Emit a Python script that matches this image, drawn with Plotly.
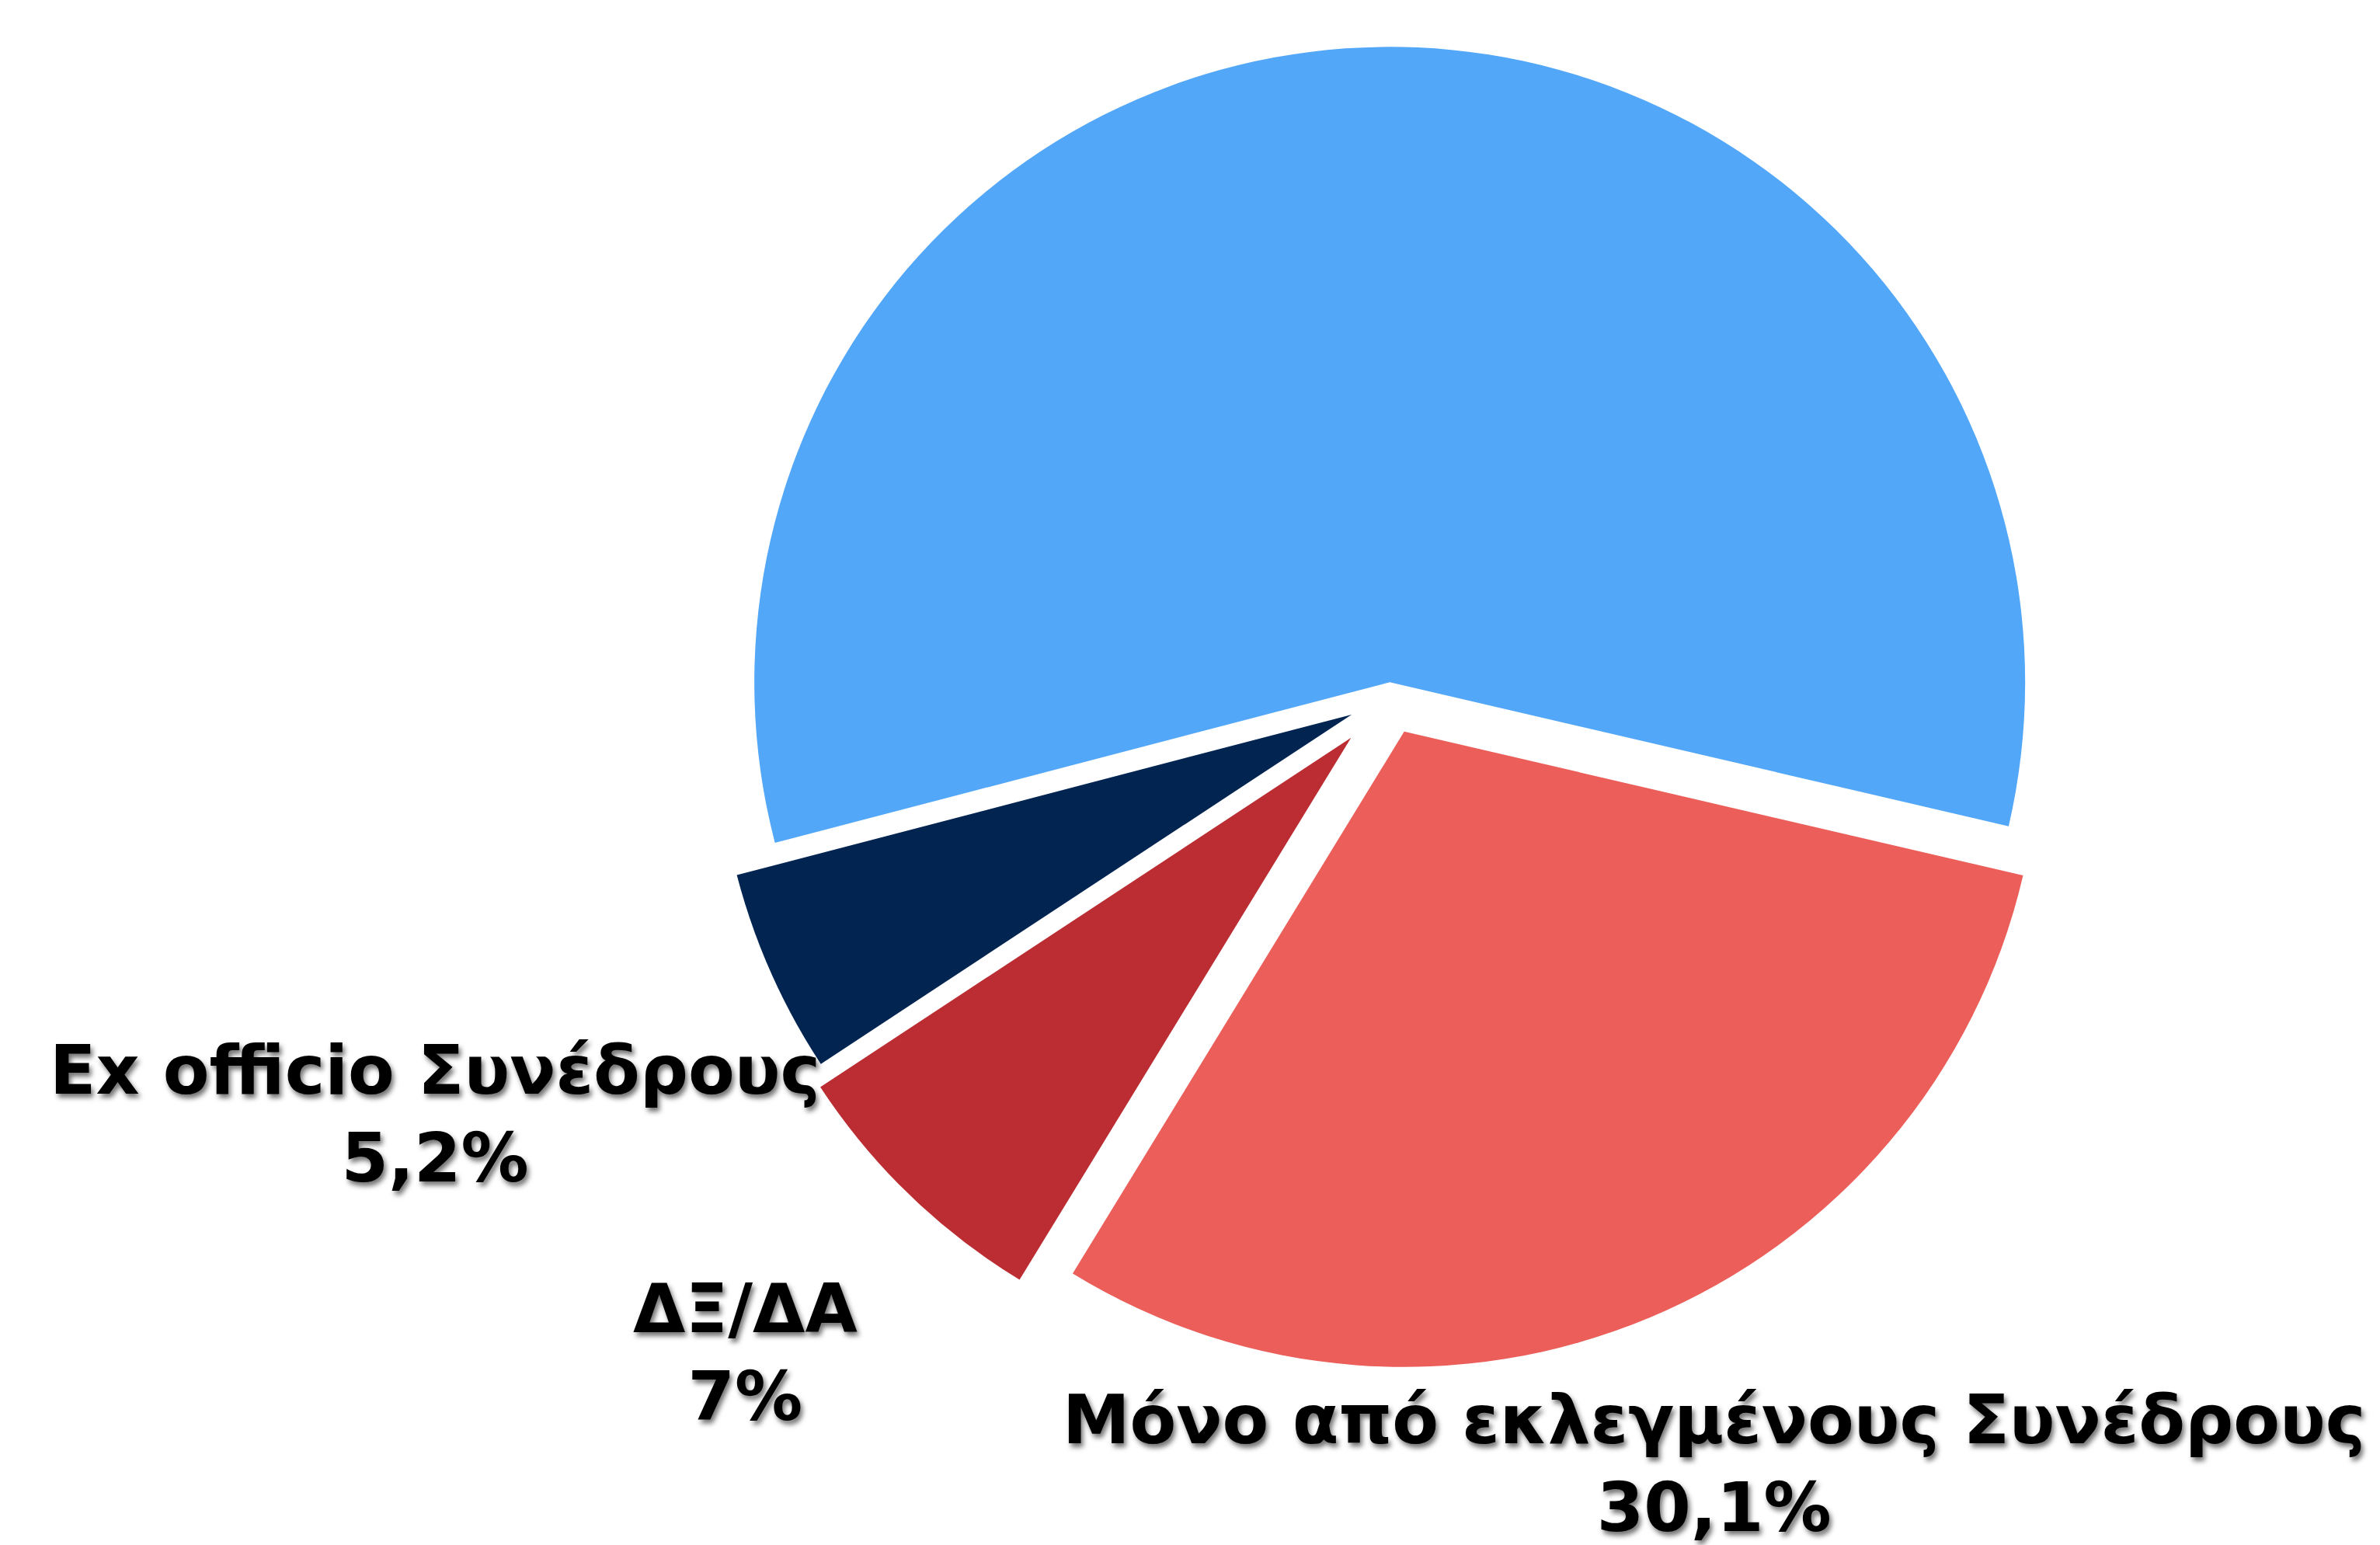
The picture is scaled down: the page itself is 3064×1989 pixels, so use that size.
import plotly.graph_objects as go

# ---- data ----
labels = ["Λοιποί", "Ex officio Συνέδρους", "ΔΞ/ΔΑ", "Μόνο από εκλεγμένους Συνέδρους"]
values = [57.7, 5.2, 7.0, 30.1]
show_label = [False, True, True, True]

# ---- styles ----
colors = ["#52A7F9", "#012451", "#BB2D32", "#EB5E59"]
pulls = [0.024, 0.066, 0.088, 0.058]

W, H = 3064, 1989
# label anchor positions (pixels in the figure) for the visible labels
label_pos = {1: (552, 1426), 2: (951, 1733), 3: (2198, 1876)}

fig = go.Figure()
fig.add_trace(go.Pie(
    labels=labels,
    values=values,
    sort=False,
    direction="counterclockwise",
    rotation=-104.63,
    pull=pulls,
    marker=dict(colors=colors, line=dict(width=0)),
    textinfo="none",
    hoverinfo="label+percent",
    domain=dict(x=[0.28767, 0.87513], y=[0.10508, 1.0]),
    showlegend=False,
))


def fmt(v):
    return f"{v:g}".replace(".", ",") + "%"


annotations = []
for i, (lab, v) in enumerate(zip(labels, values)):
    if not show_label[i]:
        continue
    px, py = label_pos[i]
    annotations.append(dict(
        x=px / W, y=1 - py / H, xref="paper", yref="paper",
        xanchor="center", yanchor="middle", align="center",
        text=f"{lab}<br>{fmt(v)}", showarrow=False,
        font=dict(family="DejaVu Sans", size=87, color="#000000", weight=700,
                  shadow="3px 5px 6px rgba(0,0,0,0.55)"),
    ))

fig.update_layout(
    width=W, height=H,
    margin=dict(l=0, r=0, t=0, b=0),
    paper_bgcolor="white", plot_bgcolor="white",
    annotations=annotations,
)

fig.write_html("out.html")
